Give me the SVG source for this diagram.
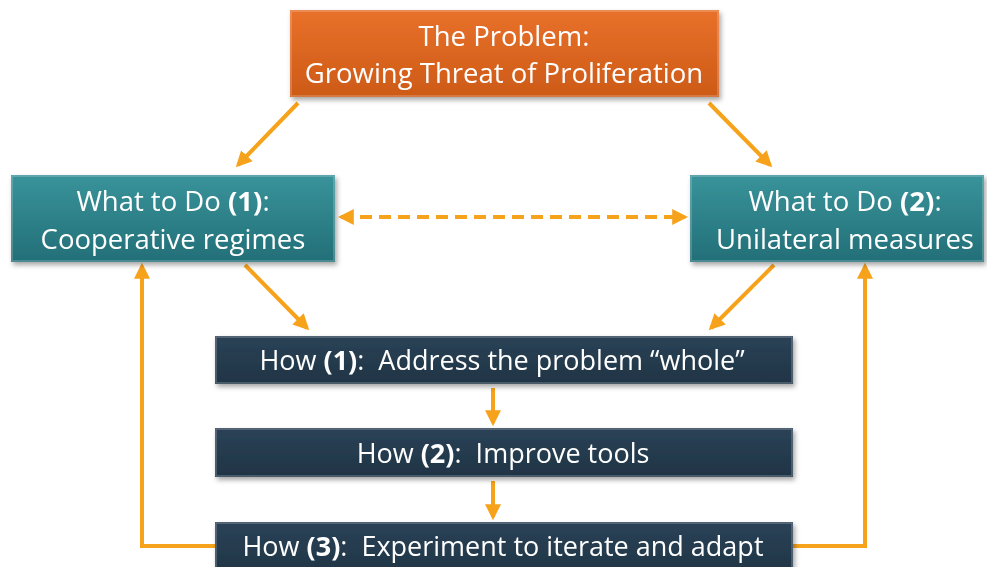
<svg xmlns="http://www.w3.org/2000/svg" width="987" height="567" viewBox="0 0 987 567">
  <defs>
    <linearGradient id="gOrange" x1="0" y1="0" x2="0" y2="1">
      <stop offset="0" stop-color="#E8712A"/>
      <stop offset="1" stop-color="#CD5A17"/>
    </linearGradient>
    <linearGradient id="gTeal" x1="0" y1="0" x2="0" y2="1">
      <stop offset="0" stop-color="#39939A"/>
      <stop offset="1" stop-color="#236F78"/>
    </linearGradient>
    <linearGradient id="gNavy" x1="0" y1="0" x2="0" y2="1">
      <stop offset="0" stop-color="#2B4256"/>
      <stop offset="1" stop-color="#1F3446"/>
    </linearGradient>
    <filter id="shadow" x="-5%" y="-10%" width="112%" height="130%">
      <feDropShadow dx="2" dy="3" stdDeviation="2.5" flood-color="#000" flood-opacity="0.35"/>
    </filter>
    <marker id="arrow" viewBox="0 0 10 10" refX="8" refY="5" markerWidth="4" markerHeight="4" orient="auto-start-reverse" markerUnits="strokeWidth">
      <path d="M0,0 L10,5 L0,10 Z" fill="#F7A21B"/>
    </marker>
  </defs>
  <style>
    .box { filter: url(#shadow); }
    .bevel { fill: none; stroke: #ffffff; stroke-opacity: 0.25; stroke-width: 1.5; }
    .t { font-family: "Open Sans", "Liberation Sans", sans-serif; fill: #ffffff; text-anchor: middle; white-space: pre; }
    .big { font-size: 27.5px; }
    .mid { font-size: 27px; }
    .b { font-weight: bold; }
    .conn { stroke: #F7A21B; stroke-width: 4; fill: none; marker-end: url(#arrow); }
    .dash { stroke: #F7A21B; stroke-width: 4; fill: none; stroke-dasharray: 12 7; marker-start: url(#arrow); marker-end: url(#arrow); }
  </style>
  <rect width="987" height="567" fill="#ffffff"/>

  <g id="connectors">
    <line class="conn" x1="298" y1="103" x2="238" y2="165"/>
    <line class="conn" x1="709" y1="103" x2="770" y2="165"/>
    <line class="dash" x1="341" y1="217" x2="685" y2="217"/>
    <line class="conn" x1="245" y1="265" x2="307" y2="328"/>
    <line class="conn" x1="774" y1="265" x2="711" y2="328"/>
    <line class="conn" x1="493" y1="388" x2="493" y2="423"/>
    <line class="conn" x1="493" y1="481" x2="493" y2="517"/>
    <polyline class="conn" points="215,546 142,546 142,266"/>
    <polyline class="conn" points="793,546 865,546 865,266"/>
  </g>

  <g id="problem" class="box">
    <rect x="290" y="10" width="429" height="87" fill="url(#gOrange)"/>
    <rect class="bevel" x="291" y="11" width="427" height="85"/>
    <text class="t big" x="504" y="46">The Problem:</text>
    <text class="t big" x="504" y="83">Growing Threat of Proliferation</text>
  </g>

  <g id="what1" class="box">
    <rect x="11" y="175" width="324" height="87" fill="url(#gTeal)"/>
    <rect class="bevel" x="12" y="176" width="322" height="85"/>
    <text class="t big" x="173" y="211">What to Do <tspan class="b">(1)</tspan>:</text>
    <text class="t big" x="173" y="249">Cooperative regimes</text>
  </g>

  <g id="what2" class="box">
    <rect x="690" y="175" width="294" height="87" fill="url(#gTeal)"/>
    <rect class="bevel" x="691" y="176" width="292" height="85"/>
    <text class="t big" x="845" y="211">What to Do <tspan class="b">(2)</tspan>:</text>
    <text class="t big" x="845" y="249">Unilateral measures</text>
  </g>

  <g id="how1" class="box">
    <rect x="215" y="336" width="578" height="48" fill="url(#gNavy)"/>
    <rect class="bevel" x="216" y="337" width="576" height="46"/>
    <text class="t mid" x="502" y="370">How <tspan class="b">(1)</tspan>:  Address the problem “whole”</text>
  </g>

  <g id="how2" class="box">
    <rect x="215" y="428" width="578" height="49" fill="url(#gNavy)"/>
    <rect class="bevel" x="216" y="429" width="576" height="47"/>
    <text class="t mid" x="503" y="463">How <tspan class="b">(2)</tspan>:  Improve tools</text>
  </g>

  <g id="how3" class="box">
    <rect x="215" y="522" width="578" height="55" fill="url(#gNavy)"/>
    <rect class="bevel" x="216" y="523" width="576" height="53"/>
    <text class="t mid" x="503" y="556">How <tspan class="b">(3)</tspan>:  Experiment to iterate and adapt</text>
  </g>
</svg>
